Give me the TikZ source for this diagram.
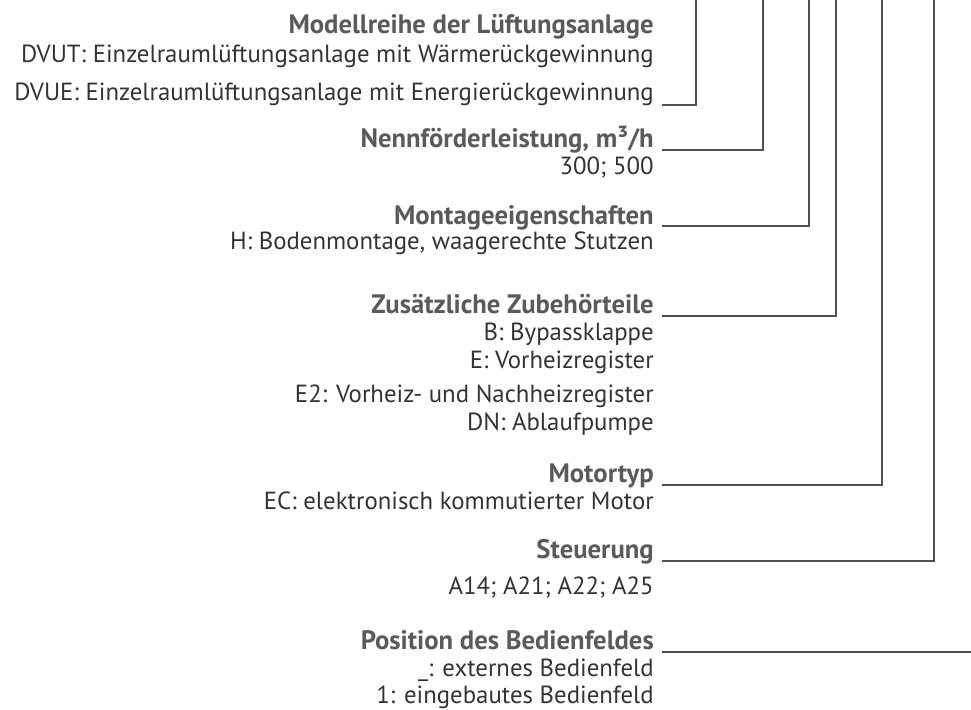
\documentclass[tikz,border=0pt]{standalone}
\usepackage{fontspec}
\setmainfont{PT Sans}
\usetikzlibrary{positioning}
\definecolor{headgray}{HTML}{5A5A5A}
\definecolor{textgray}{HTML}{333333}
\definecolor{linegray}{HTML}{505050}
\newcommand\keyfont{\fontsize{18.6pt}{22pt}\selectfont}
\newcommand\headfont{\fontsize{20pt}{24pt}\selectfont\bfseries}

\begin{document}
\begin{tikzpicture}[x=0.75pt,y=-0.75pt,
  head/.style={anchor=base east,inner sep=0pt,font=\headfont,text=headgray},
  item/.style={anchor=base east,inner sep=0pt,font=\keyfont,text=textgray},
  leader/.style={draw=linegray,line width=0.8pt}]
\useasboundingbox (0,0) rectangle (971,710);

% Modellreihe
\node[head] (h1) at (654,34) {Modellreihe der Lüftungsanlage};
\node[item] (h1a) at (654,63) {DVUT: Einzelraumlüftungsanlage mit Wärmerückgewinnung};
\node[item] (h1b) at (654,100) {DVUE: Einzelraumlüftungsanlage mit Energierückgewinnung};

% Nennfoerderleistung
\node[head] (h2) at (654,147) {Nennförderleistung, m³/h};
\node[item] (h2a) at (654,174) {300; 500};

% Montage
\node[head] (h3) at (654,224) {Montageeigenschaften};
\node[item] (h3a) at (654,249) {H: Bodenmontage, waagerechte Stutzen};

% Zubehoer
\node[head] (h4) at (654,313) {Zusätzliche Zubehörteile};
\node[item] (h4a) at (654,340) {B: Bypassklappe};
\node[item] (h4b) at (654,368) {E: Vorheizregister};
\node[item] (h4c) at (654,402) {E2: Vorheiz- und Nachheizregister};
\node[item] (h4d) at (654,430) {DN: Ablaufpumpe};

% Motor
\node[head] (h5) at (654,482) {Motortyp};
\node[item] (h5a) at (654,509) {EC: elektronisch kommutierter Motor};

% Steuerung
\node[head] (h6) at (654,558) {Steuerung};
\node[item] (h6a) at (654,594) {A14; A21; A22; A25};

% Bedienfeld
\node[head] (h7) at (654,649) {Position des Bedienfeldes};
\node[item] (h7a) at (654,676) {\_: externes Bedienfeld};
\node[item] (h7b) at (654,703) {1: eingebautes Bedienfeld};

% leader lines
\coordinate (t1) at (696,0);
\coordinate (t2) at (763,0);
\coordinate (t3) at (809,0);
\coordinate (t4) at (836,0);
\coordinate (t5) at (882,0);
\coordinate (t6) at (934,0);
\coordinate (t7) at (971,0);
\coordinate (s1) at ([shift={(8,5)}]h1b.base east);
\coordinate (s2) at ([shift={(8,3)}]h2.base east);
\coordinate (s3) at ([shift={(8,2)}]h3.base east);
\coordinate (s4) at ([shift={(8,3)}]h4.base east);
\coordinate (s5) at ([shift={(8,3)}]h5.base east);
\coordinate (s6) at ([shift={(8,3)}]h6.base east);
\coordinate (s7) at ([shift={(8,3)}]h7.base east);
\draw[leader] (s1) -| (t1);
\draw[leader] (s2) -| (t2);
\draw[leader] (s3) -| (t3);
\draw[leader] (s4) -| (t4);
\draw[leader] (s5) -| (t5);
\draw[leader] (s6) -| (t6);
\draw[leader] (s7) -- (s7 -| t7);
\end{tikzpicture}
\end{document}
